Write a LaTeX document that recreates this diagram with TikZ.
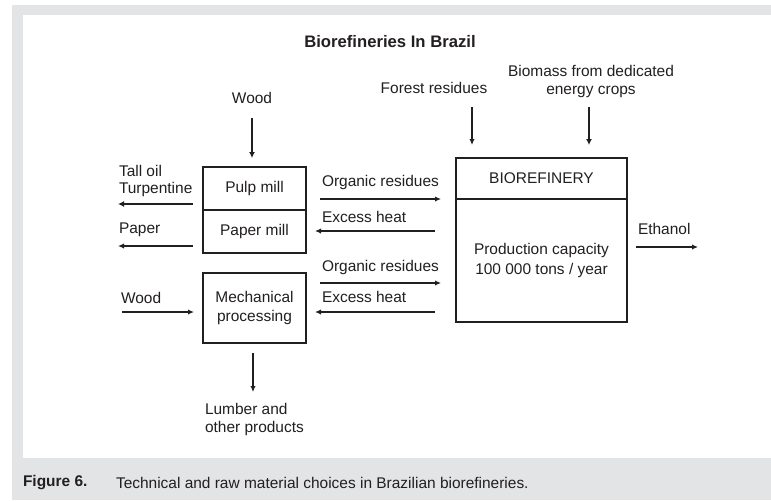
\documentclass[tikz,border=0pt]{standalone}
\usepackage{fontspec}
\setmainfont{Liberation Sans}
\usetikzlibrary{arrows.meta}
\definecolor{framegray}{RGB}{227,228,230}
\definecolor{ink}{RGB}{35,31,32}

\begin{document}
\begin{tikzpicture}[x=0.75pt,y=-0.75pt,
  every node/.style={text=ink, inner sep=0pt, outer sep=0pt,
    font=\fontsize{11.6}{12.8}\selectfont},
  box/.style={draw=ink, line width=1.1pt, align=center,
    font=\fontsize{11.6}{14.6}\selectfont},
  lbl/.style={align=left},
  flow/.style={draw=ink, line width=0.9pt, -{Latex[length=4.5pt,width=4pt]}},
  heavy/.style={draw=ink, line width=1.8pt, -{Latex[length=4.5pt,width=4.5pt]}},
]
\useasboundingbox (0,0) rectangle (771,500);

% page frame
\fill[framegray] (12,5) rectangle (771,500);
\fill[white] (23,15) rectangle (771,458);

% title
\node[font=\bfseries\fontsize{12.5}{15}\selectfont] (title) at (390,42) {Biorefineries In Brazil};

% process boxes
\node[box, minimum width=77.25pt, minimum height=32.25pt] (pulp) at (254.5,188.5) {Pulp mill};
\node[box, minimum width=77.25pt, minimum height=32.25pt] (paper) at (254.5,231.5) {Paper mill};
\node[box, minimum width=77.25pt, minimum height=52.5pt] (mech) at (254.5,308) {Mechanical\\processing};
\node[box, minimum width=128.25pt, minimum height=30.75pt] (biotop) at (541.5,178.5) {BIOREFINERY};
\node[box, minimum width=128.25pt, minimum height=92.25pt] (biobody) at (541.5,260.5) {Production capacity\\100 000 tons / year};

% raw material inputs from above
\node (woodtop) at (252,98) {Wood};
\node (forest) at (434,88) {Forest residues};
\node[align=center] (biomass) at (591,81.5) {Biomass from dedicated\\energy crops};
\coordinate (woodin) at (252,118);
\coordinate (forestin) at (472,107);
\coordinate (cropsin) at (589,107);
\draw[heavy, shorten >=6.75pt] (woodin) -- (woodin |- pulp.north);
\draw[flow, shorten >=9.75pt] (forestin) -- (forestin |- biotop.north);
\draw[heavy, shorten >=9.75pt] (cropsin) -- (cropsin |- biotop.north);

% products and inputs on the left
\node[lbl, anchor=west] (talllbl) at (119,181) {Tall oil\\Turpentine};
\node[lbl, anchor=west] (paperlbl) at (119,230) {Paper};
\node[lbl, anchor=west] (woodlbl) at (121,298) {Wood};
\coordinate (talloil) at (118,204);
\coordinate (paperout) at (118,246);
\coordinate (woodin2) at (122,312);
\draw[heavy, shorten <=7.5pt] (pulp.west |- talloil) -- (talloil);
\draw[flow, shorten <=7.5pt] (paper.west |- paperout) -- (paperout);
\draw[flow, shorten >=6.75pt] (woodin2) -- (mech.west |- woodin2);

% exchanges with the biorefinery
\node[lbl, anchor=west] (org1lbl) at (322,182) {Organic residues};
\node[lbl, anchor=west] (heat1lbl) at (322,217) {Excess heat};
\node[lbl, anchor=west] (org2lbl) at (322,267) {Organic residues};
\node[lbl, anchor=west] (heat2lbl) at (322,297) {Excess heat};
\coordinate (r1) at (0,199);
\coordinate (h1) at (0,231);
\coordinate (r2) at (0,283);
\coordinate (h2) at (0,312);
\draw[flow, shorten <=10.5pt, shorten >=11.25pt] (pulp.east |- r1) -- (biotop.west |- r1);
\draw[flow, shorten <=15.75pt, shorten >=6.75pt] (biobody.west |- h1) -- (paper.east |- h1);
\draw[flow, shorten <=10.5pt, shorten >=11.25pt] (mech.east |- r2) -- (biobody.west |- r2);
\draw[flow, shorten <=15.75pt, shorten >=6.75pt] (biobody.west |- h2) -- (mech.east |- h2);

% products on the right and below
\node[lbl, anchor=west] (ethlbl) at (638,229) {Ethanol};
\coordinate (ethanol) at (698,247);
\draw[flow, shorten <=6.75pt] (biobody.east |- ethanol) -- (ethanol);
\node[lbl, anchor=west] (lumblbl) at (205,419.5) {Lumber and\\other products};
\coordinate (lumber) at (253,392);
\draw[flow, shorten <=7.5pt] (mech.south -| lumber) -- (lumber);

% caption
\node[anchor=west, font=\bfseries\fontsize{11.6}{13}\selectfont] (figno) at (23,483) {Figure 6.};
\node[anchor=west] (caption) at (116,483) {Technical and raw material choices in Brazilian biorefineries.};
\end{tikzpicture}
\end{document}
